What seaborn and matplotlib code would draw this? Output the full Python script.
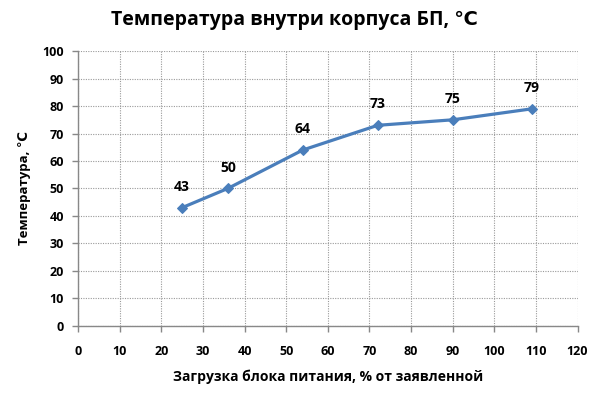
import matplotlib
matplotlib.use("Agg")
import matplotlib.pyplot as plt
import seaborn as sns
import pandas as pd

load = [25, 36, 54, 72, 90, 109]
temp = [43, 50, 64, 73, 75, 79]
x_ticks = list(range(0, 121, 10))
y_ticks = list(range(0, 101, 10))

sns.set_theme(style="white")
plt.rcParams['font.family'] = ['Open Sans', 'DejaVu Sans']
plt.rcParams['text.color'] = 'black'
plt.rcParams['xtick.color'] = '#888888'
plt.rcParams['ytick.color'] = '#888888'
plt.rcParams['xtick.labelcolor'] = 'black'
plt.rcParams['ytick.labelcolor'] = 'black'
plt.rcParams['axes.labelcolor'] = 'black'

df = pd.DataFrame({"load": load, "temp": temp})

fig = plt.figure(figsize=(6, 3.99), dpi=100)
ax = fig.add_axes([0.13, 0.1837, 0.8325, 0.688])

sns.lineplot(data=df, x="load", y="temp", ax=ax, color="#4A7EBB", linewidth=2.3,
             marker="D", markersize=5.5, markeredgecolor="#4A7EBB")

for xv, yv in zip(load, temp):
    ax.annotate(str(yv), (xv, yv), xytext=(0, 10), textcoords="offset points",
                ha="center", va="bottom", fontsize=10, fontweight="bold", color="black")

ax.set_xlim(0, 120)
ax.set_ylim(0, 100)
ax.set_xticks(x_ticks)
ax.set_yticks(y_ticks)
ax.grid(True, linestyle=(0, (1, 1.2)), color="#9a9a9a", linewidth=0.8)
for s in ["top", "right"]:
    ax.spines[s].set_visible(False)
for s in ["left", "bottom"]:
    ax.spines[s].set_color("#888888")
    ax.spines[s].set_linewidth(1.0)
ax.tick_params(axis="both", which="major", length=4, width=1, color="#888888",
               direction="out", labelsize=9, bottom=True, left=True)
ax.tick_params(axis="y", pad=6)
ax.tick_params(axis="x", pad=10)
for lab in ax.get_xticklabels() + ax.get_yticklabels():
    lab.set_fontweight("bold")

ax.set_xlabel("Загрузка блока питания, % от заявленной", fontsize=10, fontweight="bold", labelpad=8)
ax.set_ylabel("Температура, ℃", fontsize=9.5, fontweight="bold", labelpad=8)
fig.suptitle("Температура внутри корпуса БП, ℃", fontsize=14, fontweight="bold", x=0.49, y=0.975)

fig.savefig("out.png", dpi=100, facecolor="white")
